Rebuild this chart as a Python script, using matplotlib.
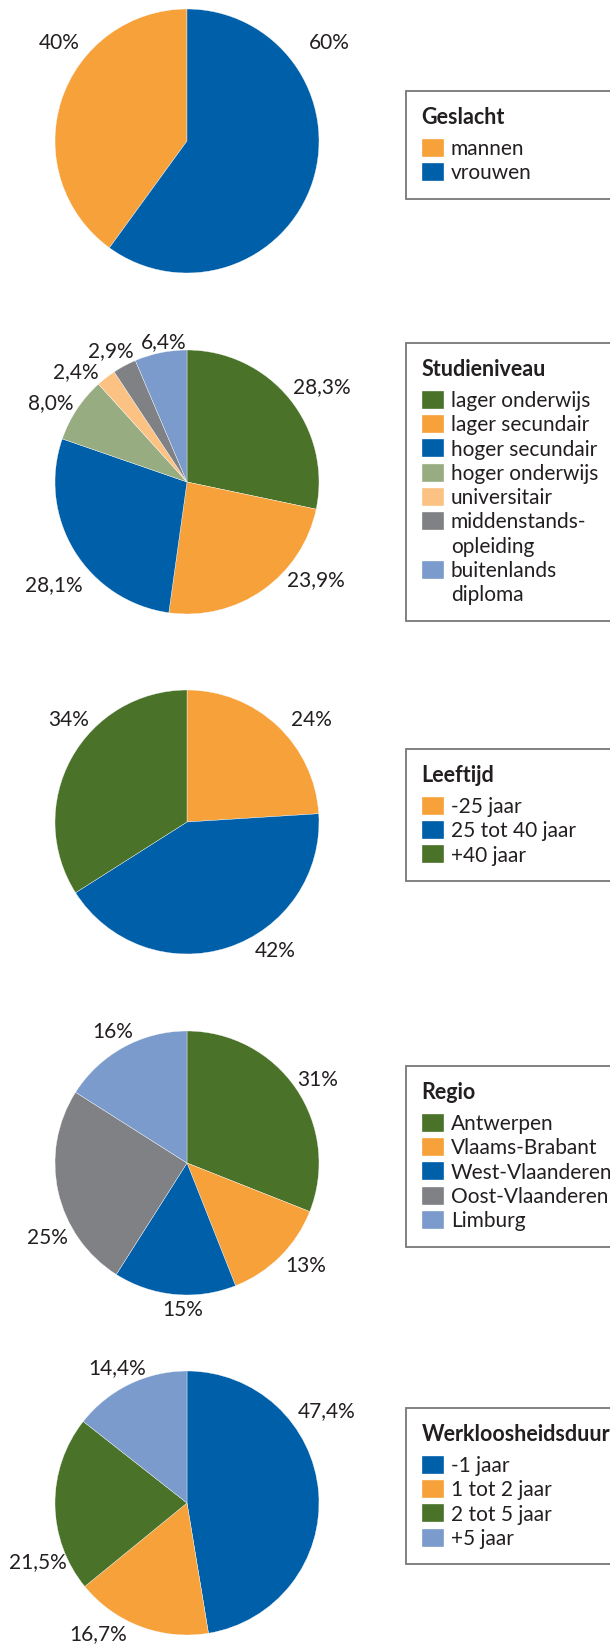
import matplotlib.pyplot as plt
import matplotlib.patches as mpatches

plt.rcParams["font.family"] = ["Lato", "DejaVu Sans"]

# kleuren
oranje = "#F7A13A"
blauw = "#005FA9"
groen = "#4A7229"
lichtgroen = "#97AD81"
lichtoranje = "#FCC283"
grijs = "#808184"
lichtblauw = "#7A9BCB"
tekst = "#231F20"

# data per grafiek
geslacht_labels = ["mannen", "vrouwen"]
geslacht_waarden = [40, 60]
geslacht_tekst = ["40%", "60%"]

studie_labels = ["lager onderwijs", "lager secundair", "hoger secundair", "hoger onderwijs",
                 "universitair", "middenstands-\nopleiding", "buitenlands\ndiploma"]
studie_waarden = [28.3, 23.9, 28.1, 8.0, 2.4, 2.9, 6.4]
studie_tekst = ["28,3%", "23,9%", "28,1%", "8,0%", "2,4%", "2,9%", "6,4%"]

leeftijd_labels = ["-25 jaar", "25 tot 40 jaar", "+40 jaar"]
leeftijd_waarden = [24, 42, 34]
leeftijd_tekst = ["24%", "42%", "34%"]

regio_labels = ["Antwerpen", "Vlaams-Brabant", "West-Vlaanderen", "Oost-Vlaanderen", "Limburg"]
regio_waarden = [31, 13, 15, 25, 16]
regio_tekst = ["31%", "13%", "15%", "25%", "16%"]

duur_labels = ["-1 jaar", "1 tot 2 jaar", "2 tot 5 jaar", "+5 jaar"]
duur_waarden = [47.4, 16.7, 21.5, 14.4]
duur_tekst = ["47,4%", "16,7%", "21,5%", "14,4%"]

W, H = 610, 1645
fig = plt.figure(figsize=(W / 100, H / 100), dpi=100)

R = 132      # straal in pixels
L = 1.45     # halve breedte van de assen in eenheden van de straal


def taart(cy, waarden, kleuren, teksten, tekstpos, titel, labels, legend_top, klok=False):
    zijde = 2 * L * R
    ax = fig.add_axes([(187 - zijde / 2) / W, 1 - (cy + zijde / 2) / H, zijde / W, zijde / H])
    wedges, _ = ax.pie(waarden, colors=kleuren, startangle=90, counterclock=klok,
                       wedgeprops=dict(edgecolor="white", linewidth=0.25))
    ax.set_xlim(-L, L)
    ax.set_ylim(-L, L)
    ax.set_aspect("equal")
    ax.axis("off")
    for t, (x, y) in zip(teksten, tekstpos):
        ax.text(x, y, t, ha="center", va="center", fontsize=15, color=tekst)

    # labels over meerdere regels: extra regels krijgen een leeg symbool
    handles, namen = [], []
    for w, lab in zip(wedges, labels):
        regels = lab.split("\n")
        handles.append(w)
        namen.append(regels[0])
        for r in regels[1:]:
            handles.append(mpatches.Patch(facecolor="none", edgecolor="none"))
            namen.append(r)

    leg = fig.legend(handles, namen, title=titel, loc="upper left",
                     bbox_to_anchor=(406 / W, 1 - legend_top / H, 0.5, 0),
                     mode="expand", alignment="left", frameon=True, fancybox=False,
                     fontsize=15, title_fontproperties=dict(weight="bold", size=15.5),
                     handlelength=1.05, handleheight=0.95, handletextpad=0.35,
                     labelspacing=0.2, borderpad=0.75, borderaxespad=0)
    leg._legend_box.sep = 8
    leg.get_frame().set_edgecolor("#555555")
    leg.get_frame().set_linewidth(1.3)
    for t in leg.get_texts():
        t.set_color(tekst)
    leg.get_title().set_color(tekst)


taart(141, geslacht_waarden, [oranje, blauw], geslacht_tekst,
      [(-0.97, 0.74), (1.08, 0.74)], "Geslacht", geslacht_labels, 91, klok=True)

taart(482, studie_waarden, [groen, oranje, blauw, lichtgroen, lichtoranje, grijs, lichtblauw],
      studie_tekst,
      [(1.02, 0.72), (0.98, -0.74), (-1.01, -0.78), (-1.03, 0.60), (-0.84, 0.83),
       (-0.58, 0.99), (-0.18, 1.06)],
      "Studieniveau", studie_labels, 343)

taart(822, leeftijd_waarden, [oranje, blauw, groen], leeftijd_tekst,
      [(0.94, 0.77), (0.67, -0.98), (-0.90, 0.77)],
      "Leeftijd", leeftijd_labels, 749)

taart(1163, regio_waarden, [groen, oranje, blauw, grijs, lichtblauw], regio_tekst,
      [(0.99, 0.63), (0.90, -0.78), (-0.03, -1.11), (-1.06, -0.57), (-0.56, 0.99)],
      "Regio", regio_labels, 1066)

taart(1503, duur_waarden, [blauw, oranje, groen, lichtblauw], duur_tekst,
      [(1.06, 0.70), (-0.67, -0.99), (-1.13, -0.45), (-0.53, 1.02)],
      "Werkloosheidsduur", duur_labels, 1408)

fig.savefig("out.png", dpi=100, facecolor="white")
